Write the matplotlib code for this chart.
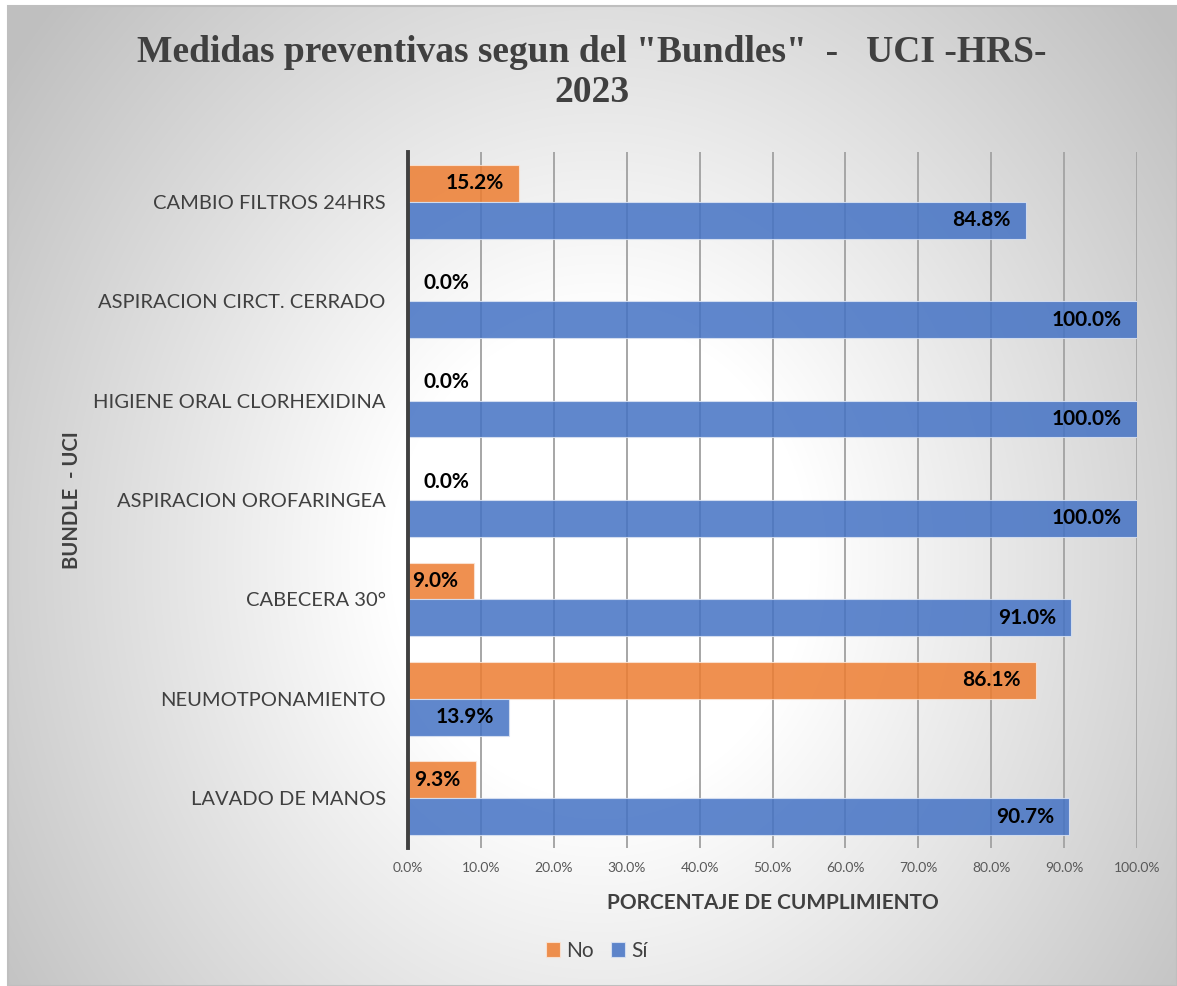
#!/usr/bin/env python3
"""
Bundle compliance chart (UCI - HRS - 2023) as grouped horizontal bars.
"""

import numpy as np
import matplotlib
matplotlib.use("Agg")
import matplotlib.pyplot as plt
from matplotlib.patches import Rectangle
from matplotlib.ticker import FuncFormatter

categories = [
    "CAMBIO FILTROS 24HRS",
    "ASPIRACION CIRCT. CERRADO",
    "HIGIENE ORAL CLORHEXIDINA",
    "ASPIRACION OROFARINGEA",
    "CABECERA 30°",
    "NEUMOTPONAMIENTO",
    "LAVADO DE MANOS",
]
no_values = [15.2, 0.0, 0.0, 0.0, 9.0, 86.1, 9.3]
si_values = [84.8, 100.0, 100.0, 100.0, 91.0, 13.9, 90.7]
x_ticks = [0, 10, 20, 30, 40, 50, 60, 70, 80, 90, 100]

W, H, DPI = 1177, 986, 100
fig = plt.figure(figsize=(W / DPI, H / DPI), dpi=DPI)
fig.patch.set_facecolor("white")

# radial gradient background (white centre, grey edges)
bg = fig.add_axes([0, 0, 1, 1], zorder=-10)
yy, xx = np.mgrid[0:H, 0:W]
r = np.hypot((xx - 600) / 700, (yy - 560) / 800)
shade = 1.0 - 0.25 * np.clip((r - 0.3) / 0.75, 0, 1)
img = np.dstack([shade, shade, shade])
bg.imshow(img, extent=[0, W, H, 0], aspect="auto")
bg.set_xlim(0, W)
bg.set_ylim(H, 0)
bg.axis("off")
# white margin + thin border like the pasted chart
bg.add_patch(Rectangle((0, 0), W, 6, facecolor="white", edgecolor="none"))
bg.add_patch(Rectangle((0, 0), 8, H, facecolor="white", edgecolor="none"))
bg.add_patch(Rectangle((8, 6), W - 8, H - 6, facecolor="none", edgecolor="#bfbfbf", lw=1.5))

ax = fig.add_axes([408 / W, 1 - 848 / H, (1137 - 408) / W, (848 - 152) / H])
ax.set_facecolor("none")

y = np.arange(len(categories))
bh = 0.37
orange = "#ED7D31"
blue = "#4472C4"

ax.barh(y - bh / 2, no_values, height=bh, color=orange, alpha=0.85,
        edgecolor="#fbe5d6", linewidth=0.8, label="No", zorder=3)
ax.barh(y + bh / 2, si_values, height=bh, color=blue, alpha=0.85,
        edgecolor="#dae3f3", linewidth=0.8, label="Sí", zorder=3)

lbl_font = dict(family="Lato", fontsize=15, fontweight="bold", color="black", zorder=5)
for yi, v in zip(y - bh / 2, no_values):
    if v == 0:
        ax.annotate(f"{v:.1f}%", (v, yi), xytext=(11, 0), textcoords="offset points",
                    ha="left", va="center", **lbl_font)
    else:
        ax.annotate(f"{v:.1f}%", (v, yi), xytext=(-11, 0), textcoords="offset points",
                    ha="right", va="center", **lbl_font)
for yi, v in zip(y + bh / 2, si_values):
    ax.annotate(f"{v:.1f}%", (v, yi), xytext=(-11, 0), textcoords="offset points",
                ha="right", va="center", **lbl_font)

ax.set_xlim(0, 100)
ax.set_ylim(len(categories) - 0.5, -0.5)
ax.set_xticks(x_ticks)
ax.xaxis.set_major_formatter(FuncFormatter(lambda v, _: f"{v:.1f}%"))
ax.set_yticks(y)
ax.set_yticklabels(categories)

ax.grid(axis="x", color="#a6a6a6", linewidth=1.4, zorder=1)
ax.set_axisbelow(True)
for s in ["top", "right", "bottom"]:
    ax.spines[s].set_visible(False)
ax.spines["left"].set_color("#404040")
ax.spines["left"].set_linewidth(2.8)
ax.spines["left"].set_zorder(6)

ax.tick_params(axis="y", length=0, pad=16, labelsize=14.5, labelcolor="#404040")
ax.tick_params(axis="x", length=0, pad=10, labelsize=10, labelcolor="#595959")
for t in ax.get_yticklabels() + ax.get_xticklabels():
    t.set_family("Lato")

ax.set_xlabel("PORCENTAJE DE CUMPLIMIENTO", family="Lato", fontsize=15,
              fontweight="bold", color="#404040", labelpad=14)
fig.text(72 / W, 1 - 500 / H, "BUNDLE  - UCI", rotation=90, ha="center", va="center",
         family="Lato", fontsize=14.5, fontweight="bold", color="#404040")

fig.text(592 / W, 1 - 52 / H, "Medidas preventivas segun del \"Bundles\"  -   UCI -HRS-",
         ha="center", va="center", family="Liberation Serif", fontsize=27,
         fontweight="bold", color="#404040")
fig.text(592 / W, 1 - 93 / H, "2023", ha="center", va="center",
         family="Liberation Serif", fontsize=27, fontweight="bold", color="#404040")

fig.legend(loc="center", bbox_to_anchor=(597 / W, 1 - 951 / H), ncol=2, frameon=False,
           prop=dict(family="Lato", size=15), handlelength=0.7, handleheight=0.7,
           handletextpad=0.3, columnspacing=0.8, labelcolor="#404040")

fig.savefig("out.png", dpi=DPI)
